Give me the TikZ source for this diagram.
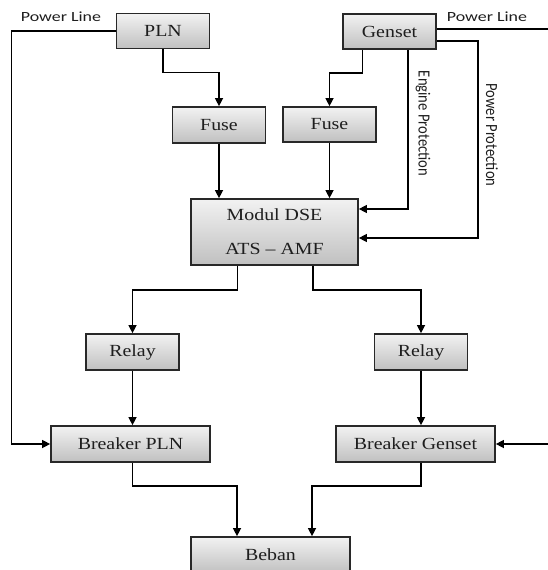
\documentclass[tikz,border=0pt]{standalone}
\usepackage{fontspec}
\setmainfont{Liberation Serif}[FakeStretch=1.17]
\newfontfamily\calfont{Carlito}[FakeStretch=1.28]
\newfontfamily\calfontv{Carlito}[FakeStretch=0.86]
\usetikzlibrary{arrows.meta,positioning,calc}
\definecolor{boxline}{RGB}{40,40,40}
\definecolor{boxtop}{RGB}{242,242,242}
\definecolor{boxbottom}{RGB}{192,192,192}
\definecolor{textgray}{RGB}{30,30,30}

\begin{document}
\begin{tikzpicture}[x=1pt, y=-1pt,
  box/.style={draw=boxline, line width=1.7pt, top color=boxtop, bottom color=boxbottom,
    minimum width=93pt, minimum height=35pt, inner sep=0pt, text=textgray,
    font=\fontsize{17}{20}\selectfont},
  wide/.style={box, minimum width=159pt, minimum height=36pt},
  arr/.style={line width=1.3pt, draw=black, -{Triangle[length=8pt, width=8pt]}},
  wire/.style={line width=1.3pt, draw=black},
  side/.style={text=textgray, font=\calfont\fontsize{14}{16}\selectfont},
  sidev/.style={text=textgray, font=\calfontv\fontsize{17}{19}\selectfont, rotate=-90}]
  \useasboundingbox (0,0) rectangle (548,570);
  \clip (0,0) rectangle (548,570);

  \node[box] (pln) at (163,31) {PLN};
  \node[box] (genset) at (389.5,31.5) {Genset};
  \node[box, minimum height=36pt] (fuseL) at (219,125) {Fuse};
  \node[box] (fuseR) at (329.5,124.5) {Fuse};
  \node[box, minimum width=167pt, minimum height=66pt, align=center,
    font=\fontsize{17}{34}\selectfont] (dse) at (274.5,232) {Modul DSE\\ATS -- AMF};
  \node[box, minimum height=36pt] (relayL) at (132.5,352) {Relay};
  \node[box, minimum height=36pt] (relayR) at (421,352) {Relay};
  \node[wide] (brkL) at (130.5,444) {Breaker PLN};
  \node[wide] (brkR) at (415.5,444) {Breaker Genset};
  \node[wide] (beban) at (270.5,555) {Beban};

  \coordinate (lineR) at (548,29);
  \coordinate (gridR) at (548,444);

  \node[side] (plnlabel) at (61,17) {Power Line};
  \node[side] (genlabel) at (487,17) {Power Line};
  \node[sidev] (englabel) at (423,123.5) {Engine Protection};
  \node[sidev] (pwrlabel) at (492,135) {Power Protection};

  \draw[arr] (pln.south) -- ++(0,23) -| (fuseL.north);
  \draw[arr] (genset.south west) ++(20,0) -- ++(0,23) -| (fuseR.north);
  \draw[arr] (fuseL.south) -- (fuseL.south |- dse.north);
  \draw[arr] (fuseR.south) -- (fuseR.south |- dse.north);
  \draw[arr] ([xshift=-29pt]genset.south east) |- ([yshift=23pt]dse.east);
  \draw[arr] ([yshift=-9.5pt]genset.east) -- ++(41,0) |- ([yshift=-6pt]dse.east);
  \draw[wire] ([yshift=2.5pt]genset.east) -- (lineR);

  \draw[arr] ([xshift=47pt]dse.south west) -- ++(0,24) -| (relayL.north);
  \draw[arr] ([xshift=-46pt]dse.south east) -- ++(0,24) -| (relayR.north);
  \draw[arr] (relayL.south) -- (relayL.south |- brkL.north);
  \draw[arr] (relayR.south) -- (relayR.south |- brkR.north);

  \draw[arr] (pln.west) -- ++(-104,0) |- (brkL.west);
  \draw[arr] (gridR) -- (brkR.east);

  \draw[arr] (relayL.south |- brkL.south) -- ++(0,23) -| ([xshift=-33.5pt]beban.north);
  \draw[arr] (relayR.south |- brkR.south) -- ++(0,23) -| ([xshift=41.5pt]beban.north);
\end{tikzpicture}
\end{document}
